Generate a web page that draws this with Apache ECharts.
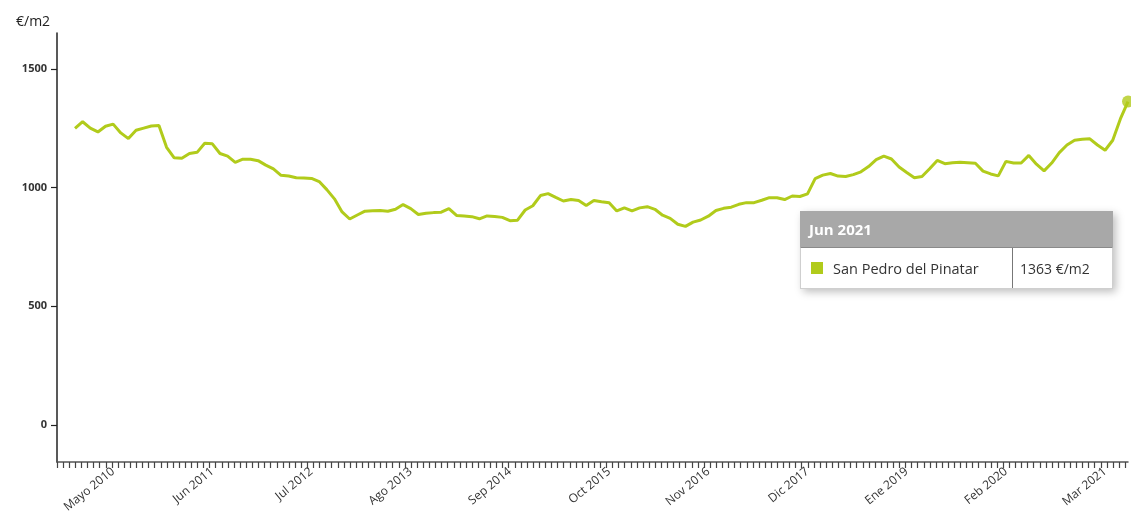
<!DOCTYPE html>
<html>
<head>
<meta charset="utf-8">
<script src="https://cdn.jsdelivr.net/npm/echarts@6/dist/echarts.min.js"></script>
<style>
html,body{margin:0;padding:0;background:#fff;}
#chart{width:1131px;height:520px;}
</style>
</head>
<body>
<div id="chart"></div>
<script>
// Month names (Spanish) and the first month of the series (Dic 2009)
const monthNames = ['Ene','Feb','Mar','Abr','Mayo','Jun','Jul','Ago','Sep','Oct','Nov','Dic'];
const startYear = 2009, startMonth = 11; // December 2009

// Price €/m2, monthly, Dic 2009 .. Jun 2021
const values = [
  1250,1278,1251,1235,1259,1268,1231,1207,1242,1251,1260,1262,
  1170,1126,1124,1144,1149,1187,1185,1144,1133,1107,1120,1120,
  1114,1095,1079,1052,1049,1042,1041,1039,1026,992,953,898,
  868,885,901,903,904,901,909,929,912,887,892,895,
  897,912,883,881,878,869,881,879,875,861,863,906,
  924,967,975,959,944,950,946,925,946,941,937,902,
  915,902,915,920,909,884,871,846,837,855,864,880,
  904,913,918,930,937,937,947,958,958,950,965,963,
  974,1038,1053,1060,1049,1047,1055,1067,1089,1118,1133,1121,
  1087,1064,1042,1047,1080,1115,1101,1105,1107,1105,1103,1070,
  1058,1050,1111,1104,1104,1136,1099,1071,1104,1148,1180,1200,
  1204,1206,1180,1158,1200,1290,1363
];

const categories = values.map((_, i) => {
  const m = (startMonth + i) % 12;
  const y = startYear + Math.floor((startMonth + i) / 12);
  return monthNames[m] + ' ' + y;
});

const seriesName = 'San Pedro del Pinatar';
const unit = '€/m2';
const xLabelIdx = [5, 18, 31, 44, 57, 70, 83, 96, 109, 122, 135];
const yTicks = [0, 500, 1000, 1500];

const lastIdx = values.length - 1;
const lineData = values.map((v, i) => [i, v]);

const xMin = -2.36;
const tickStep = 0.8;
const xTicks = [];
for (let t = xMin; t <= lastIdx + 0.01; t += tickStep) xTicks.push(+t.toFixed(3));

const FONT = 'Open Sans';
const GREEN = '#b1cb1b';

const chart = echarts.init(document.getElementById('chart'), null, {renderer: 'canvas'});
chart.setOption({
  animation: false,
  backgroundColor: '#fff',
  title: {
    text: unit, left: 11, top: 10,
    textStyle: {fontFamily: FONT, fontSize: 14, fontWeight: 'normal', color: '#222'}
  },
  grid: {left: 57, right: 3, top: 33, bottom: 58, containLabel: false},
  xAxis: {
    type: 'value', min: xMin, max: lastIdx,
    axisLine: {show: true, onZero: false, lineStyle: {color: '#555', width: 1.5}},
    axisTick: {show: true, customValues: xTicks, length: 6, lineStyle: {color: '#444', width: 1.2}},
    axisLabel: {
      customValues: xLabelIdx, rotate: 39, margin: 8,
      fontFamily: FONT, fontSize: 12, color: '#333',
      formatter: v => categories[Math.round(v)] || ''
    },
    splitLine: {show: false}
  },
  yAxis: {
    type: 'value', min: -156, max: 1652,
    axisLine: {show: true, onZero: false, lineStyle: {color: '#222', width: 1.5}},
    axisTick: {show: true, customValues: yTicks, length: 6, lineStyle: {color: '#222', width: 1.2}},
    axisLabel: {
      customValues: yTicks, fontFamily: FONT, fontSize: 11, fontWeight: 'bold', color: '#333', margin: 10,
      formatter: v => String(v)
    },
    splitLine: {show: false}
  },
  tooltip: {
    trigger: 'axis',
    triggerOn: 'none',
    alwaysShowContent: true,
    axisPointer: {type: 'none'},
    position: [800, 211],
    padding: 0,
    borderWidth: 0,
    backgroundColor: '#fff',
    transitionDuration: 0,
    extraCssText: 'box-shadow:3px 3px 8px rgba(0,0,0,0.25);border-radius:0;',
    formatter: params => {
      const p = params.find(q => q.seriesIndex === 0) || params[0];
      const idx = p.dataIndex;
      return '<div style="width:313px;font-family:' + FONT + ',sans-serif;">' +
        '<div style="background:#a8a8a8;color:#fff;font-weight:bold;font-size:15px;height:36px;line-height:36px;padding-left:9px;">' + categories[idx] + '</div>' +
        '<div style="display:flex;height:42px;border:1px solid #cfcfcf;border-top:1px solid #8a8a8a;box-sizing:border-box;">' +
          '<div style="width:212px;border-right:1.5px solid #777;display:flex;align-items:center;padding-left:10px;box-sizing:border-box;font-size:14.5px;color:#333;">' +
            '<span style="display:inline-block;width:12px;height:12px;background:' + GREEN + ';margin-right:10px;"></span>' + seriesName + '</div>' +
          '<div style="flex:1;display:flex;align-items:center;padding-left:7px;font-size:14px;color:#333;">' + values[idx] + ' ' + unit + '</div>' +
        '</div></div>';
    }
  },
  series: [
    {
      name: seriesName, type: 'line', data: lineData,
      showSymbol: false, symbol: 'none',
      lineStyle: {color: GREEN, width: 3},
      itemStyle: {color: GREEN},
      emphasis: {disabled: true}
    },
    {
      name: seriesName + ' (último)', type: 'scatter',
      data: [lineData[lastIdx]],
      symbolSize: 12, itemStyle: {color: GREEN},
      tooltip: {show: false}
    }
  ]
});
chart.dispatchAction({type: 'showTip', seriesIndex: 0, dataIndex: lastIdx});
</script>
</body>
</html>
